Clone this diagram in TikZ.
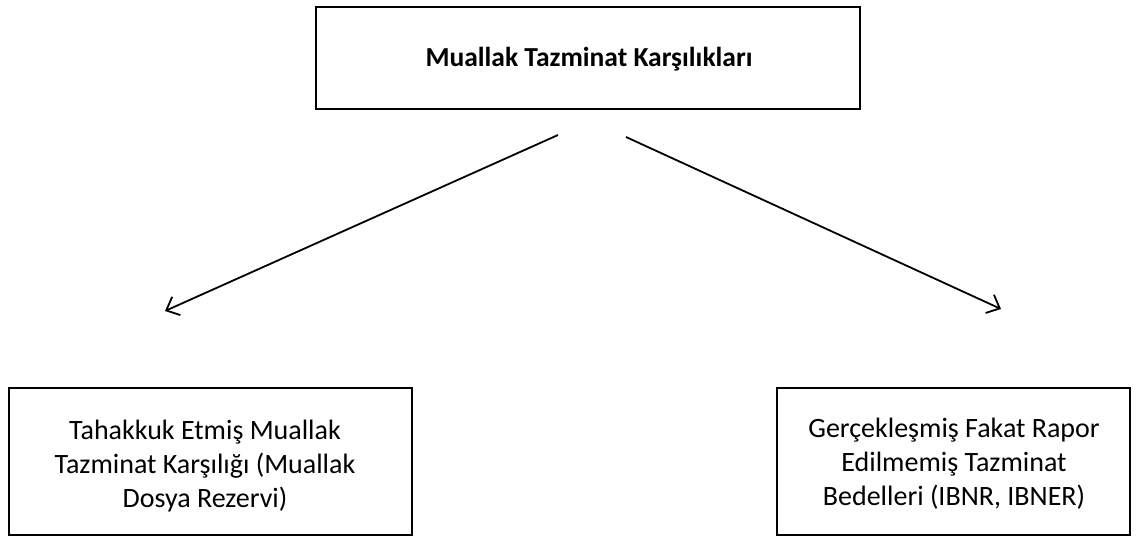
\documentclass[tikz,border=0pt]{standalone}
\usepackage{fontspec}
\setmainfont{Carlito}
\usetikzlibrary{arrows.meta}
\begin{document}
\begin{tikzpicture}[x=1pt,y=-1pt,
  box/.style={draw=black,line width=2.4pt,rectangle},
  boxtext/.style={align=center,font=\fontsize{28}{34}\selectfont},
  link/.style={draw=black,line width=1.8pt,-{Straight Barb[length=11pt,width=20pt,line width=1.8pt]}}]
  \useasboundingbox (0,0) rectangle (1139,541);
  % category boxes
  \draw[box] (316,7) rectangle (860,109);
  \draw[box] (9,388) rectangle (412,535);
  \draw[box] (777,388) rectangle (1130,535);
  \node[font=\bfseries\fontsize{27.5}{32}\selectfont] (top) at (589,59) {Muallak Tazminat Karşılıkları};
  \node[boxtext] (left) at (205,466) {Tahakkuk Etmiş Muallak\\Tazminat Karşılığı (Muallak\\Dosya Rezervi)};
  \node[boxtext] (right) at (954,464) {Gerçekleşmiş Fakat Rapor\\Edilmemiş Tazminat\\Bedelleri (IBNR, IBNER)};
  % branch arrows
  \coordinate (ls) at (558,135);
  \coordinate (le) at (165,311);
  \coordinate (rs) at (626,137);
  \coordinate (re) at (1001,309);
  \draw[link] (ls) -- (le);
  \draw[link] (rs) -- (re);
\end{tikzpicture}
\end{document}
